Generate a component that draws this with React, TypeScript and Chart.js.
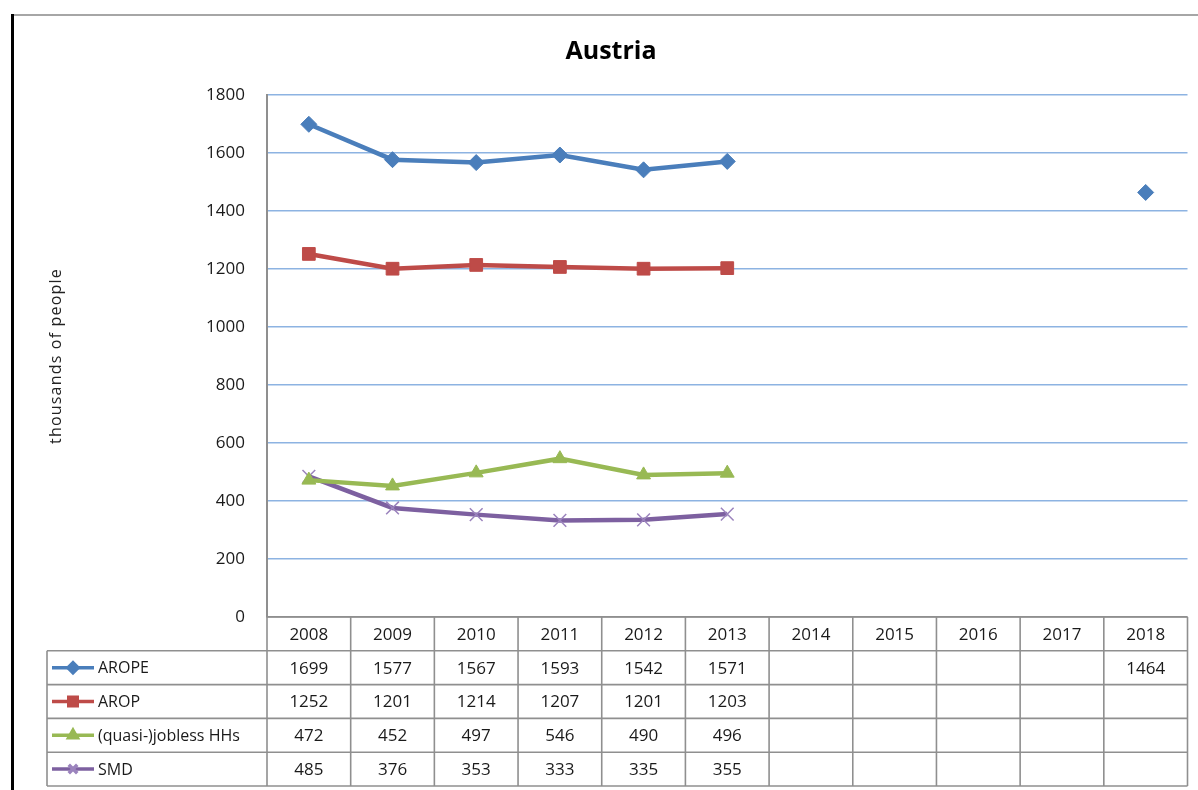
import React, { useEffect, useRef } from 'react';
import { Chart, registerables } from 'chart.js';
import { drawPoint } from 'chart.js/helpers';

Chart.register(...registerables);

const TITLE = 'Austria';
const Y_TITLE = 'thousands of people';
const years = ['2008', '2009', '2010', '2011', '2012', '2013', '2014', '2015', '2016', '2017', '2018'];
const arope = [1699, 1577, 1567, 1593, 1542, 1571, null, null, null, null, 1464];
const arop = [1252, 1201, 1214, 1207, 1201, 1203, null, null, null, null, null];
const jobless = [472, 452, 497, 546, 490, 496, null, null, null, null, null];
const smd = [485, 376, 353, 333, 335, 355, null, null, null, null, null];
const seriesNames = ['AROPE', 'AROP', '(quasi-)jobless HHs', 'SMD'];
const Y_MIN = 0;
const Y_MAX = 1800;
const Y_STEP = 200;

const FONT = '"Open Sans", "Liberation Sans", sans-serif';

const tablePlugin = {
  id: 'tableAndFrame',
  beforeDraw(chart: any) {
    const ctx = chart.ctx;
    ctx.save();
    ctx.fillStyle = '#ffffff';
    ctx.fillRect(0, 0, chart.width, chart.height);
    // frame
    ctx.strokeStyle = '#a6a6a6';
    ctx.lineWidth = 2;
    ctx.beginPath();
    ctx.moveTo(12, 15);
    ctx.lineTo(chart.width, 15);
    ctx.stroke();
    ctx.strokeStyle = '#000000';
    ctx.lineWidth = 3;
    ctx.beginPath();
    ctx.moveTo(12.5, 14);
    ctx.lineTo(12.5, chart.height);
    ctx.stroke();
    ctx.restore();
  },
  afterDraw(chart: any) {
    const ctx = chart.ctx;
    const { left, right, bottom } = chart.chartArea;
    ctx.save();
    // title
    ctx.fillStyle = '#000000';
    ctx.font = 'bold 25px ' + FONT;
    ctx.textAlign = 'center';
    ctx.textBaseline = 'middle';
    ctx.fillText(TITLE, 611, 52);
    // y title
    ctx.save();
    ctx.translate(56, 356);
    ctx.rotate(-Math.PI / 2);
    ctx.font = '16px ' + FONT;
    (ctx as any).letterSpacing = '1.2px';
    ctx.fillStyle = '#222222';
    ctx.fillText(Y_TITLE, 0, 0);
    ctx.restore();

    // table
    const n = years.length;
    const cw = (right - left) / n;
    const rowH = 33.8;
    const top = bottom;
    const tableLeft = 47;
    const tableBottom = top + 5 * rowH;
    ctx.strokeStyle = '#8f8f8f';
    ctx.lineWidth = 1.6;
    const line = (x1: number, y1: number, x2: number, y2: number) => {
      ctx.beginPath();
      ctx.moveTo(x1, y1);
      ctx.lineTo(x2, y2);
      ctx.stroke();
    };
    line(left, top, right, top);
    for (let r = 1; r <= 5; r++) {
      const y = top + r * rowH;
      line(tableLeft, y, right, y);
    }
    for (let i = 0; i <= n; i++) {
      const x = left + i * cw;
      line(x, top, x, tableBottom);
    }
    line(tableLeft, top + rowH, tableLeft, tableBottom);

    ctx.fillStyle = '#1a1a1a';
    ctx.textAlign = 'center';
    ctx.textBaseline = 'middle';
    ctx.font = '17px ' + FONT;
    years.forEach((yr, i) => {
      ctx.fillText(yr, left + (i + 0.5) * cw, top + rowH / 2 + 1);
    });
    chart.data.datasets.forEach((ds: any, r: number) => {
      const cy = top + (r + 1.5) * rowH;
      ds.data.forEach((v: number | null, i: number) => {
        if (v === null || v === undefined) return;
        ctx.fillStyle = '#1a1a1a';
        ctx.font = '17px ' + FONT;
        ctx.textAlign = 'center';
        ctx.fillText(String(v), left + (i + 0.5) * cw, cy + 1);
      });
      // legend key
      ctx.strokeStyle = ds.borderColor;
      ctx.lineWidth = 3.5;
      line(52, cy, 94, cy);
      ctx.fillStyle = ds.pointBackgroundColor;
      ctx.strokeStyle = ds.pointBorderColor;
      drawPoint(ctx, {
        pointStyle: ds.pointStyle,
        radius: Math.round(ds.pointRadius * 0.68),
        rotation: 0,
        borderWidth: ds.pointBorderWidth,
      } as any, 73, cy);
      ctx.fillStyle = '#1a1a1a';
      ctx.textAlign = 'left';
      ctx.font = '16px ' + FONT;
      ctx.fillText(seriesNames[r], 98, cy + 1);
      ctx.strokeStyle = '#8f8f8f';
      ctx.lineWidth = 1.6;
    });
    ctx.restore();
  },
};

export default function App() {
  const ref = useRef<HTMLCanvasElement | null>(null);
  useEffect(() => {
    if (!ref.current) return;
    const chart = new Chart(ref.current, {
      type: 'line',
      data: {
        labels: years,
        datasets: [
          {
            label: seriesNames[0],
            data: arope,
            borderColor: '#4A7EBB',
            borderWidth: 4.5,
            pointStyle: 'rectRot',
            pointRadius: 8,
            pointBackgroundColor: '#4A7EBB',
            pointBorderColor: '#4A7EBB',
            pointBorderWidth: 1,
            spanGaps: false,
          },
          {
            label: seriesNames[1],
            data: arop,
            borderColor: '#BE4B48',
            borderWidth: 4.5,
            pointStyle: 'rect',
            pointRadius: 9,
            pointBackgroundColor: '#BE4B48',
            pointBorderColor: '#BE4B48',
            pointBorderWidth: 1,
            spanGaps: false,
          },
          {
            label: seriesNames[2],
            data: jobless,
            borderColor: '#98B954',
            borderWidth: 4.5,
            pointStyle: 'triangle',
            pointRadius: 8,
            pointBackgroundColor: '#98B954',
            pointBorderColor: '#98B954',
            pointBorderWidth: 1,
            spanGaps: false,
          },
          {
            label: seriesNames[3],
            data: smd,
            borderColor: '#7D60A0',
            borderWidth: 4.5,
            pointStyle: 'crossRot',
            pointRadius: 9,
            pointBackgroundColor: '#9B83BD',
            pointBorderColor: '#9B83BD',
            pointBorderWidth: 1.5,
            spanGaps: false,
          },
        ],
      },
      options: {
        responsive: false,
        animation: false,
        layout: { padding: { left: 0, right: 9, top: 95, bottom: 173 } },
        plugins: {
          legend: { display: false },
          tooltip: { enabled: false },
          title: { display: false },
        },
        scales: {
          x: {
            type: 'category',
            display: false,
            offset: true,
          },
          y: {
            min: Y_MIN,
            max: Y_MAX,
            afterFit: (s: any) => {
              s.width = 267;
            },
            ticks: {
              stepSize: Y_STEP,
              padding: 22,
              color: '#1a1a1a',
              font: { family: FONT, size: 17 },
              callback: (v: any) => String(v),
            },
            grid: {
              drawTicks: false,
              color: (c: any) => (c.tick && c.tick.value === 0 ? '#8f8f8f' : '#8DB3E2'),
              lineWidth: 1.5,
            },
            border: { display: true, color: '#8f8f8f', width: 2 },
          },
        },
      },
      plugins: [tablePlugin],
    });
    return () => chart.destroy();
  }, []);
  return (
    <canvas
      ref={ref}
      width={1198}
      height={790}
      style={{ position: 'fixed', left: 0, top: 0, display: 'block' }}
    />
  );
}
